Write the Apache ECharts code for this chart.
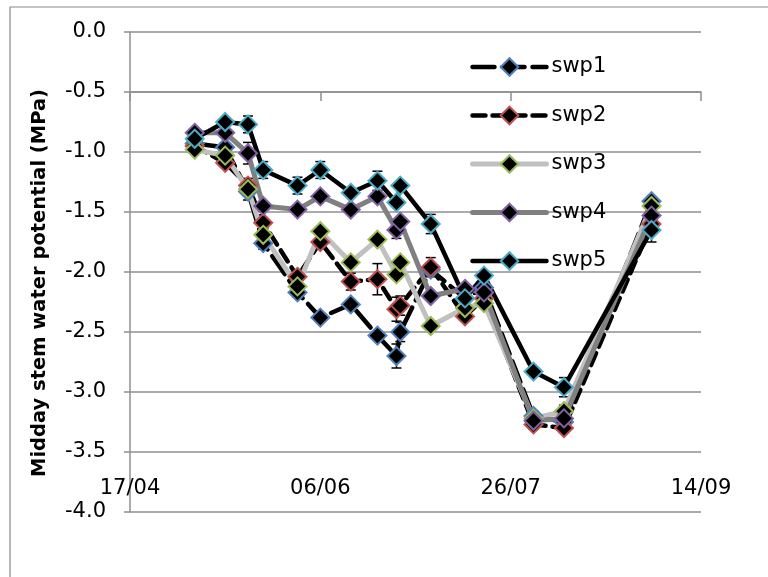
<!DOCTYPE html>
<html>
<head>
<meta charset="utf-8">
<title>Midday stem water potential</title>
<script src="https://cdn.jsdelivr.net/npm/echarts@6/dist/echarts.min.js"></script>
<style>
  html, body { margin: 0; padding: 0; background: #ffffff; }
  #chart { width: 768px; height: 577px; }
</style>
</head>
<body>
<div id="chart"></div>
<script>
// Sampling dates (dd/mm) and midday stem water potential (MPa) per treatment
const year = 2013;
const axisStart = '17/04';
const axisEnd = '14/09';
const tickStepDays = 50;

const dates = ['04/05', '12/05', '18/05', '22/05', '31/05', '06/06', '14/06', '21/06',
               '26/06', '27/06', '05/07', '14/07', '19/07', '01/08', '09/08', '01/09'];

const seriesNames = ['swp1', 'swp2', 'swp3', 'swp4', 'swp5'];

const swp1 = [-0.93, -0.96, -1.33, -1.76, -2.17, -2.38, -2.27, -2.53, -2.70, -2.50, -1.98, -2.22, -2.13, -3.20, -3.25, -1.41];
const swp2 = [-0.95, -1.09, -1.28, -1.59, -2.04, -1.75, -2.08, -2.06, -2.31, -2.28, -1.96, -2.37, -2.22, -3.27, -3.30, -1.60];
const swp3 = [-0.98, -1.03, -1.31, -1.69, -2.12, -1.66, -1.92, -1.73, -2.02, -1.92, -2.45, -2.30, -2.26, -3.22, -3.16, -1.45];
const swp4 = [-0.84, -0.84, -1.01, -1.45, -1.48, -1.37, -1.48, -1.37, -1.65, -1.58, -2.20, -2.14, -2.17, -3.24, -3.22, -1.53];
const swp5 = [-0.89, -0.75, -0.77, -1.15, -1.28, -1.15, -1.34, -1.24, -1.42, -1.28, -1.60, -2.22, -2.03, -2.83, -2.96, -1.65];

// Standard errors
const err1 = [0, 0, 0, 0.05, 0.04, 0, 0.04, 0, 0.10, 0.08, 0, 0, 0, 0.04, 0.03, 0];
const err2 = [0, 0.03, 0, 0, 0, 0, 0.07, 0.13, 0.10, 0.08, 0.08, 0, 0, 0.04, 0, 0];
const err3 = [0, 0, 0.09, 0.05, 0, 0, 0, 0, 0, 0, 0, 0, 0, 0, 0.05, 0];
const err4 = [0, 0, 0.09, 0, 0, 0, 0, 0, 0.07, 0, 0, 0, 0, 0, 0, 0];
const err5 = [0, 0, 0.07, 0.07, 0.07, 0.07, 0, 0.08, 0, 0, 0.08, 0, 0, 0, 0.08, 0.10];

const yTicks = { min: -4.0, max: 0.0, step: 0.5 };

// ---- helpers ----
function dayOffset(ddmm) {
  const [d, m] = ddmm.split('/').map(Number);
  const [d0, m0] = axisStart.split('/').map(Number);
  return (Date.UTC(year, m - 1, d) - Date.UTC(year, m0 - 1, d0)) / 86400000;
}
function ddmmFromOffset(v) {
  const [d0, m0] = axisStart.split('/').map(Number);
  const dt = new Date(Date.UTC(year, m0 - 1, d0) + v * 86400000);
  const dd = String(dt.getUTCDate()).padStart(2, '0');
  const mm = String(dt.getUTCMonth() + 1).padStart(2, '0');
  return dd + '/' + mm;
}

const xs = dates.map(dayOffset);
const values = [swp1, swp2, swp3, swp4, swp5];
const errors = [err1, err2, err3, err4, err5];

const styles = [
  { line: '#000000', width: 4.5, type: [22, 8], border: '#4F81BD' },
  { line: '#000000', width: 4.5, type: [13, 7], border: '#C0504D' },
  { line: '#C0C0C0', width: 5,   type: 'solid', border: '#9BBB59' },
  { line: '#808080', width: 5,   type: 'solid', border: '#8064A2' },
  { line: '#000000', width: 4.5, type: 'solid', border: '#4BACC6' }
];

const gridColor = '#8f8f8f';
const tickFont = 'DejaVu Sans';

function errorBars(idx) {
  const data = [];
  xs.forEach((x, i) => {
    const e = errors[idx][i];
    if (e > 0) data.push([x, values[idx][i] - e, values[idx][i] + e]);
  });
  return {
    type: 'custom',
    name: seriesNames[idx] + ' error',
    silent: true,
    data: data,
    renderItem: function (params, api) {
      const lo = api.coord([api.value(0), api.value(1)]);
      const hi = api.coord([api.value(0), api.value(2)]);
      const half = 5;
      const st = { stroke: '#000000', lineWidth: 1.5 };
      return {
        type: 'group',
        children: [
          { type: 'line', shape: { x1: lo[0], y1: lo[1], x2: hi[0], y2: hi[1] }, style: st },
          { type: 'line', shape: { x1: lo[0] - half, y1: lo[1], x2: lo[0] + half, y2: lo[1] }, style: st },
          { type: 'line', shape: { x1: hi[0] - half, y1: hi[1], x2: hi[0] + half, y2: hi[1] }, style: st }
        ]
      };
    }
  };
}

const series = [];
values.forEach((vals, idx) => {
  const s = styles[idx];
  series.push(errorBars(idx));
  series.push({
    type: 'line',
    name: seriesNames[idx],
    data: xs.map((x, i) => [x, vals[i]]),
    symbol: 'diamond',
    symbolSize: [18, 18],
    showSymbol: true,
    animation: false,
    lineStyle: { color: s.line, width: s.width, type: s.type, cap: 'round', join: 'round' },
    itemStyle: { color: '#000000', borderColor: s.border, borderWidth: 2 },
    emphasis: { disabled: true }
  });
});

const chart = echarts.init(document.getElementById('chart'), null, { renderer: 'canvas' });

chart.setOption({
  animation: false,
  backgroundColor: '#ffffff',
  grid: { left: 130, right: 67, top: 32, bottom: 65, containLabel: false },
  graphic: [{
    type: 'rect',
    shape: { x: 10, y: 7, width: 800, height: 620 },
    style: { fill: 'none', stroke: '#8a8a8a', lineWidth: 1.2 },
    silent: true,
    z: -1
  }],
  legend: {
    data: seriesNames,
    orient: 'vertical',
    left: 465,
    top: 51,
    itemWidth: 74,
    itemHeight: 22,
    itemGap: 26.5,
    lineStyle: { width: 'inherit', type: 'inherit', cap: 'round' },
    itemStyle: { borderWidth: 'inherit' },
    textStyle: { fontFamily: tickFont, fontSize: 21, color: '#000000', lineHeight: 22, padding: [0, 0, 0, 0] },
    selectedMode: false
  },
  xAxis: {
    type: 'value',
    min: 0,
    max: dayOffset(axisEnd),
    interval: tickStepDays,
    offset: -60,
    axisLine: { show: true, lineStyle: { color: gridColor, width: 1.5 } },
    axisTick: { show: true, length: 9, inside: false, lineStyle: { color: gridColor, width: 1.5 } },
    splitLine: { show: false },
    axisLabel: {
      margin: 26,
      fontFamily: tickFont,
      fontSize: 21,
      color: '#000000',
      formatter: v => ddmmFromOffset(v),
      showMinLabel: true,
      showMaxLabel: true
    }
  },
  yAxis: {
    type: 'value',
    min: yTicks.min,
    max: yTicks.max,
    interval: yTicks.step,
    name: 'Midday stem water potential (MPa)',
    nameLocation: 'middle',
    nameGap: 80,
    nameRotate: 90,
    nameTextStyle: { fontFamily: tickFont, fontSize: 19.5, fontWeight: 'bold', color: '#000000', padding: [0, 22, 0, 0] },
    axisLine: { show: true, lineStyle: { color: gridColor, width: 1.5 } },
    axisTick: { show: true, length: 6, inside: false, lineStyle: { color: gridColor, width: 1.5 } },
    splitLine: { show: true, lineStyle: { color: gridColor, width: 1.5 } },
    axisLabel: {
      margin: 24,
      fontFamily: tickFont,
      fontSize: 21,
      color: '#000000',
      formatter: v => v.toFixed(1)
    }
  },
  series: series
});
</script>
</body>
</html>
